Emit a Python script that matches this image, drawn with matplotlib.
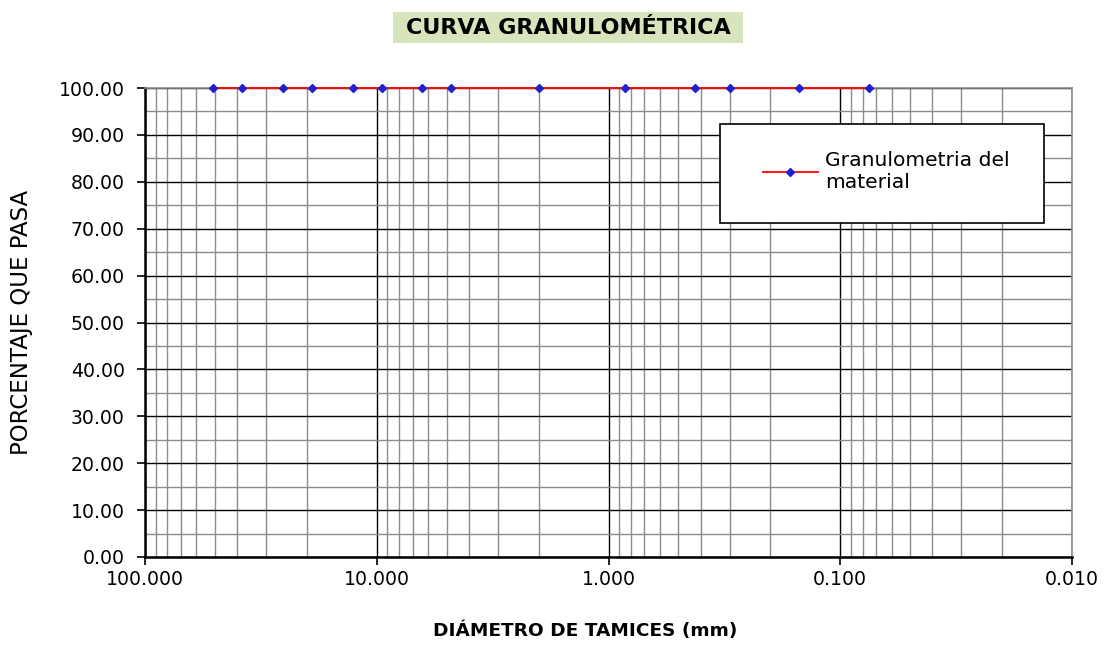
import matplotlib
matplotlib.use("Agg")
import matplotlib.pyplot as plt
import numpy as np
from matplotlib.patches import Rectangle
from matplotlib.ticker import FixedLocator, FuncFormatter, LogLocator, NullFormatter

plt.rcParams["font.family"] = ["DejaVu Sans"]

# sieve openings (mm) and percent passing
diametros = [50.8, 38.1, 25.4, 19.05, 12.7, 9.525, 6.35, 4.76, 2.00, 0.85, 0.425, 0.30, 0.15, 0.075]
pasa = [100.0] * len(diametros)
serie = "Granulometria del\nmaterial"

W, H = 1109, 648
fig = plt.figure(figsize=(W / 100, H / 100), dpi=100)
ax = fig.add_axes([145 / W, 1 - 557 / H, (1072 - 145) / W, (557 - 88) / H])

ax.set_xscale("log")
ax.set_xlim(100, 0.01)
ax.set_ylim(0, 100)

ax.xaxis.set_major_locator(FixedLocator([100, 10, 1, 0.1, 0.01]))
ax.xaxis.set_minor_locator(LogLocator(base=10, subs=np.arange(2, 10)))
ax.xaxis.set_major_formatter(FuncFormatter(lambda v, p: f"{v:.3f}"))
ax.xaxis.set_minor_formatter(NullFormatter())
ax.set_yticks(np.arange(0, 101, 10))
ax.set_yticks(np.arange(5, 100, 10), minor=True)
ax.yaxis.set_major_formatter(FuncFormatter(lambda v, p: f"{v:.2f}"))

ax.grid(which="major", color="black", linewidth=1.0)
ax.grid(which="minor", color="#8c8c8c", linewidth=1.0)
ax.set_axisbelow(True)

for side in ("left", "bottom"):
    ax.spines[side].set_color("black")
    ax.spines[side].set_linewidth(1.8)
for side in ("top", "right"):
    ax.spines[side].set_color("#8c8c8c")
    ax.spines[side].set_linewidth(1.2)

ax.tick_params(which="major", direction="out", length=5.5, width=1.2, labelsize=13.6, colors="black")
ax.tick_params(axis="y", which="major", pad=9)
ax.tick_params(axis="x", which="major", pad=4)
ax.tick_params(which="minor", length=0)

ax.plot(diametros, pasa, color="red", linewidth=1.3, marker="D", markersize=4.5,
        markerfacecolor="#1f1fd0", markeredgecolor="#1f1fd0", label=serie, clip_on=False, zorder=5)

# legend box
box = Rectangle((720 / W, 1 - 223 / H), 324 / W, 99 / H, transform=fig.transFigure,
                facecolor="white", edgecolor="black", linewidth=1.2, zorder=5.5, clip_on=False)
ax.add_patch(box)
leg = ax.legend(loc="upper left", bbox_to_anchor=(763 / W, 1 - 151 / H), bbox_transform=fig.transFigure,
                fontsize=14.6, frameon=False, borderpad=0, borderaxespad=0,
                handlelength=2.7, handletextpad=0.35)
leg.set_zorder(7)

ax.set_xlabel("DIÁMETRO DE TAMICES (mm)", fontsize=13.3, fontweight="bold")
ax.xaxis.set_label_coords((585 - 145) / 927, (557 - 621) / 469)
ax.set_ylabel("PORCENTAJE QUE PASA", fontsize=16.5)
ax.yaxis.set_label_coords((33 - 145) / 927, 0.5)

# title with green band
fig.patches.append(Rectangle((393 / W, 1 - 43 / H), 350 / W, 31 / H, transform=fig.transFigure,
                             facecolor="#d8e4bc", edgecolor="none"))
fig.text(568 / W, 1 - 28 / H, "CURVA GRANULOMÉTRICA", fontsize=16, fontweight="bold",
         ha="center", va="center")

fig.savefig("out.png", dpi=100)
